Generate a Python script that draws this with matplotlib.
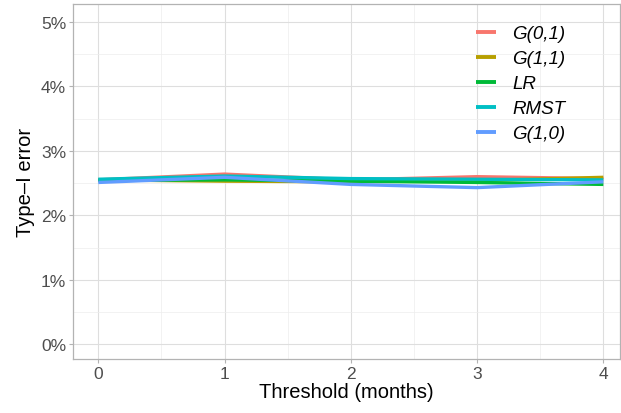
import numpy as np
from matplotlib import pyplot as plt
from matplotlib.ticker import MultipleLocator, FuncFormatter

plt.rcParams['font.family'] = ['Liberation Sans', 'DejaVu Sans']

#%% data (type-I error, %)
thresholds = [0, 1, 2, 3, 4]
labels = ["G(0,1)", "G(1,1)", "LR", "RMST", "G(1,0)"]
g01 = [2.55, 2.64, 2.55, 2.60, 2.57]
g11 = [2.55, 2.53, 2.52, 2.54, 2.59]
lr = [2.54, 2.55, 2.53, 2.51, 2.48]
rmst = [2.56, 2.61, 2.57, 2.56, 2.55]
g10 = [2.51, 2.59, 2.48, 2.43, 2.52]
colors = ["#F8766D", "#B79F00", "#00BA38", "#00BFC4", "#619CFF"]

#%% plot
fig = plt.figure(figsize=(6.21, 4.14), dpi=100)
ax = fig.add_axes([73/621, 1 - 360/414, (621 - 73)/621 - 0.002, (360 - 5)/414])

for vals, lab, c in zip([g01, g11, lr, rmst, g10], labels, colors):
    ax.plot(thresholds, vals, color=c, lw=2.4, label=lab, solid_capstyle='butt')

ax.set_xlim(-0.2, 4.13)
ax.set_ylim(-0.23, 5.28)
ax.xaxis.set_major_locator(MultipleLocator(1))
ax.xaxis.set_minor_locator(MultipleLocator(0.5))
ax.yaxis.set_major_locator(MultipleLocator(1))
ax.yaxis.set_minor_locator(MultipleLocator(0.5))
ax.yaxis.set_major_formatter(FuncFormatter(lambda v, p: "%d%%" % round(v)))
ax.grid(which='major', color='#DEDEDE', lw=0.8)
ax.grid(which='minor', color='#EDEDED', lw=0.5)
ax.set_axisbelow(True)
for s in ax.spines.values():
    s.set_color('#B3B3B3')
    s.set_linewidth(0.9)
ax.tick_params(which='major', length=3, color='#B3B3B3', labelcolor='#4D4D4D',
               labelsize=12.5, pad=2)
ax.tick_params(which='minor', length=0)

ax.set_xlabel("Threshold (months)", fontsize=14.5, labelpad=1)
ax.set_ylabel("Type\u2013I error", fontsize=14.5, labelpad=4)

leg = ax.legend(loc='upper left', bbox_to_anchor=(476/621, 1 - 26/414),
                bbox_transform=fig.transFigure, frameon=False, borderpad=0,
                borderaxespad=0, fontsize=13.5, handlelength=1.07,
                handletextpad=0.85, labelspacing=0.42)
for t in leg.get_texts():
    t.set_fontstyle('italic')
for h in leg.get_lines():
    h.set_linewidth(2.8)

fig.savefig("out.png", dpi=100)
